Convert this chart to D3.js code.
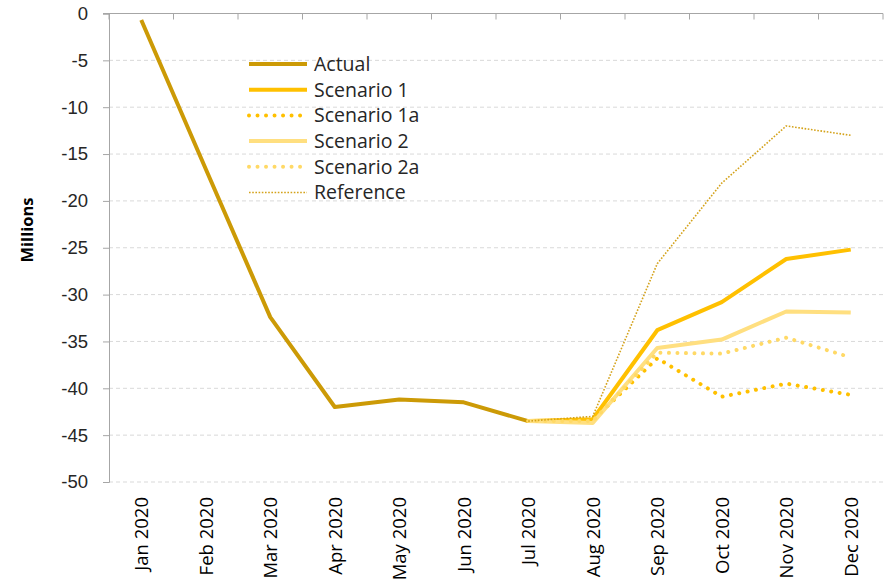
<!DOCTYPE html>
<html>
<head>
<meta charset="utf-8">
<script src="https://cdn.jsdelivr.net/npm/d3@7"></script>
<style>
  html, body { margin: 0; padding: 0; background: #fff; }
  svg { display: block; font-family: "Open Sans", Lato, sans-serif; }
</style>
</head>
<body>
<svg id="chart" width="885" height="584"></svg>
<script>
// Monthly values, in millions
const months = ["Jan 2020", "Feb 2020", "Mar 2020", "Apr 2020", "May 2020", "Jun 2020",
                "Jul 2020", "Aug 2020", "Sep 2020", "Oct 2020", "Nov 2020", "Dec 2020"];
const actual     = [-0.7, -16.6, -32.4, -42.0, -41.2, -41.5, -43.5, null, null, null, null, null];
const scenario1  = [null, null, null, null, null, null, -43.5, -43.3, -33.8, -30.8, -26.2, -25.2];
const scenario1a = [null, null, null, null, null, null, -43.5, -43.4, -36.8, -40.9, -39.5, -40.7];
const scenario2  = [null, null, null, null, null, null, -43.5, -43.7, -35.7, -34.8, -31.8, -31.9];
const scenario2a = [null, null, null, null, null, null, -43.5, -43.5, -36.2, -36.3, -34.6, -36.7];
const reference  = [null, null, null, null, null, null, -43.5, -43.0, -26.7, -18.1, -12.0, -13.0];
const yTicks = [0, -5, -10, -15, -20, -25, -30, -35, -40, -45, -50];

const series = [
  { name: "Actual",      values: actual,     color: "#CC9A06", width: 4,   dash: null,      cap: "butt" },
  { name: "Scenario 1",  values: scenario1,  color: "#FFC000", width: 4,   dash: null,      cap: "butt" },
  { name: "Scenario 1a", values: scenario1a, color: "#FFC000", width: 4,   dash: "0.01 8.5", cap: "round" },
  { name: "Scenario 2",  values: scenario2,  color: "#FFDF80", width: 4,   dash: null,      cap: "butt" },
  { name: "Scenario 2a", values: scenario2a, color: "#FFD966", width: 4,   dash: "0.01 8.5", cap: "round" },
  { name: "Reference",   values: reference,  color: "#D4A21A", width: 1.6, dash: "1.6 1.6", cap: "butt" }
];

const svg = d3.select("#chart");
const plot = { left: 109, right: 883, top: 13.5, bottom: 482 };

const x = d3.scaleBand().domain(months).range([plot.left, plot.right]);
const y = d3.scaleLinear().domain([-50, 0]).range([plot.bottom, plot.top]);
const cx = m => x(m) + x.bandwidth() / 2;

// Dashed horizontal gridlines
svg.append("g")
  .selectAll("line")
  .data(yTicks.filter(t => t !== 0))
  .join("line")
  .attr("x1", plot.left).attr("x2", plot.right)
  .attr("y1", d => y(d)).attr("y2", d => y(d))
  .attr("stroke", "#d9d9d9").attr("stroke-width", 1)
  .attr("stroke-dasharray", "4 3");

// Value axis on the left
const yAxis = svg.append("g")
  .attr("transform", `translate(${plot.left},0)`)
  .call(d3.axisLeft(y).tickValues(yTicks).tickSize(6).tickPadding(15).tickFormat(d3.format("d")));
yAxis.select(".domain").attr("stroke", "#a6a6a6");
yAxis.selectAll(".tick line").attr("stroke", "#a6a6a6");
yAxis.selectAll(".tick text")
  .attr("fill", "#262626").attr("font-size", 18.5)
  .text(d => d === 0 ? "0" : "-" + Math.abs(d));

// Category axis sits along the zero line, labels at the bottom
const xAxis = svg.append("g")
  .attr("transform", `translate(0,${y(0)})`);
xAxis.append("line")
  .attr("x1", plot.left - 6).attr("x2", plot.right)
  .attr("y1", 0).attr("y2", 0)
  .attr("stroke", "#a6a6a6");
xAxis.selectAll("line.tk")
  .data(d3.range(months.length + 1))
  .join("line").attr("class", "tk")
  .attr("x1", i => plot.left + i * x.step()).attr("x2", i => plot.left + i * x.step())
  .attr("y1", 0).attr("y2", 6)
  .attr("stroke", "#a6a6a6");

svg.append("g")
  .selectAll("text")
  .data(months)
  .join("text")
  .attr("transform", d => `translate(${cx(d) + 7},${plot.bottom + 15}) rotate(-90)`)
  .attr("text-anchor", "end")
  .attr("font-size", 18.5)
  .attr("fill", "#000")
  .text(d => d);

// Axis title
svg.append("text")
  .attr("transform", `translate(33,230) rotate(-90)`)
  .attr("text-anchor", "middle")
  .attr("font-size", 16.5).attr("font-weight", "bold")
  .attr("fill", "#000")
  .text("Millions");

// Series lines
const line = d3.line()
  .defined(d => d.v !== null)
  .x(d => cx(d.m))
  .y(d => y(d.v));

svg.append("g")
  .selectAll("path")
  .data(series)
  .join("path")
  .attr("d", s => line(months.map((m, i) => ({ m, v: s.values[i] }))))
  .attr("fill", "none")
  .attr("stroke", s => s.color)
  .attr("stroke-width", s => s.width)
  .attr("stroke-dasharray", s => s.dash)
  .attr("stroke-linecap", s => s.cap)
  .attr("stroke-linejoin", "round");

// Legend
const legend = svg.append("g").attr("transform", "translate(249,64)");
const row = legend.selectAll("g")
  .data(series)
  .join("g")
  .attr("transform", (d, i) => `translate(0,${i * 25.7})`);
row.append("line")
  .attr("x1", 0).attr("x2", 58)
  .attr("stroke", s => s.color)
  .attr("stroke-width", s => s.width)
  .attr("stroke-dasharray", s => s.dash)
  .attr("stroke-linecap", s => s.cap === "round" ? "round" : "butt");
row.append("text")
  .attr("x", 65).attr("y", 0).attr("dy", "0.35em")
  .attr("font-size", 19.5).attr("fill", "#262626")
  .text(s => s.name);
</script>
</body>
</html>
